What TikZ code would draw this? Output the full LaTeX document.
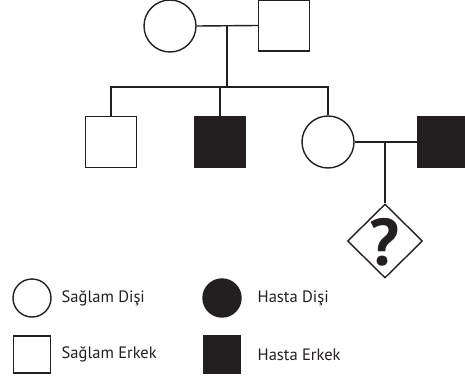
\documentclass[tikz,border=0pt]{standalone}
\usepackage{fontspec}
\setmainfont{PT Sans}
\usetikzlibrary{shapes.geometric}
\definecolor{ink}{HTML}{231F20}
\begin{document}
\begin{tikzpicture}[x=1pt,y=-1pt,
  line width=1.4pt,
  female/.style={circle,draw=ink,inner sep=0pt,minimum size=52pt},
  male/.style={rectangle,draw=ink,inner sep=0pt,minimum size=51pt},
  affected/.style={fill=ink},
  unknown/.style={diamond,draw=ink,inner sep=0pt,minimum width=75pt,minimum height=74pt,text=ink},
  qmark/.style={font=\fontsize{66}{66}\selectfont\bfseries,text=ink,inner sep=0pt},
  lfemale/.style={circle,draw=ink,inner sep=0pt,minimum size=38pt},
  lmale/.style={rectangle,draw=ink,inner sep=0pt,minimum size=37pt},
  ltext/.style={anchor=west,inner sep=0pt,font=\fontsize{16.5}{17}\selectfont,text=ink},
  link/.style={draw=ink}]
\useasboundingbox (0,0) rectangle (465,380);
% generation 1
\node[female] (gm) at (170,26) {};
\node[male] (gf) at (284,25.5) {};
\coordinate (m1) at (227,25.5);
\coordinate (s1) at (227,87);
% generation 2
\node[male] (c1) at (111,142) {};
\node[male,affected] (c2) at (220,142) {};
\node[female] (c3) at (328,142) {};
\node[male,affected] (sp) at (443,142) {};
\coordinate (m2) at (385,142);
% generation 3
\node[unknown] (q) at (385,241) {};
\node[qmark] (qm) at (384,242) {?};
% connectors
\draw[link] (gm.east) -- (gf.west);
\draw[link] (m1) -- (s1);
\draw[link] (c1.north) |- (s1) -| (c3.north);
\draw[link] (c2.north) -- (c2.north |- s1);
\draw[link] (c3.east) -- (sp.west);
\draw[link] (m2) -- (q.north);
% legend
\node[lfemale] (l1) at (32,298) {};
\node[ltext] (t1) at (61,298) {Sağlam Dişi};
\node[lfemale,affected] (l2) at (222,298) {};
\node[ltext] (t2) at (257,298) {Hasta Dişi};
\node[lmale] (l3) at (32,354.5) {};
\node[ltext] (t3) at (61,354.5) {Sağlam Erkek};
\node[lmale,affected] (l4) at (222,354.5) {};
\node[ltext] (t4) at (257,354.5) {Hasta Erkek};
\end{tikzpicture}
\end{document}
